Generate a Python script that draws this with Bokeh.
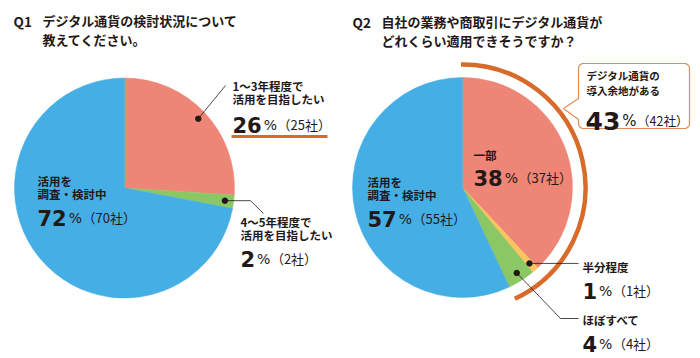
import numpy as np
from bokeh.plotting import figure
from bokeh.models import Range1d
from bokeh.core.properties import value
from bokeh.embed import file_html
from bokeh.resources import INLINE

# ---------------- data ----------------
q1_title = ["デジタル通貨の検討状況について", "教えてください。"]
q1_labels = [["1～3年程度で", "活用を目指したい"], ["4～5年程度で", "活用を目指したい"], ["活用を", "調査・検討中"]]
q1_percent = [26, 2, 72]
q1_companies = [25, 2, 70]

q2_title = ["自社の業務や商取引にデジタル通貨が", "どれくらい適用できそうですか？"]
q2_labels = [["一部"], ["半分程度"], ["ほぼすべて"], ["活用を", "調査・検討中"]]
q2_percent = [38, 1, 4, 57]
q2_companies = [37, 1, 4, 55]
q2_adopt_label = ["デジタル通貨の", "導入余地がある"]
q2_adopt_percent = 43
q2_adopt_companies = 42

# ---------------- style ----------------
SALMON = "#EE8677"
GREEN = "#8CC766"
BLUE = "#45AEE4"
YELLOW = "#FBC45E"
ORANGE = "#D86B2A"
TEXT = "#231815"
JP = "Noto Sans CJK JP"
NUM = "DejaVu Sans"

q1_colors = [SALMON, GREEN, BLUE]
q2_colors = [SALMON, YELLOW, GREEN, BLUE]

W, H = 700, 358
p = figure(width=W, height=H, x_range=Range1d(0, W), y_range=Range1d(-H, 0),
           output_backend="svg", toolbar_location=None, min_border=0,
           x_axis_type=None, y_axis_type=None)
p.grid.visible = False
p.outline_line_color = None
p.background_fill_color = "white"
p.border_fill_color = "white"


def pie(cx, cy, r, vals, colors):
    fr = np.array(vals, dtype=float) / sum(vals)
    cum = np.concatenate([[0.0], np.cumsum(fr)])
    start = np.pi / 2 - 2 * np.pi * cum[:-1]
    end = np.pi / 2 - 2 * np.pi * cum[1:]
    p.wedge(x=cx, y=-cy, radius=r, start_angle=list(start), end_angle=list(end),
            direction="clock", fill_color=colors, line_color=colors, line_width=0.5)
    return (start + end) / 2


def dot_at(cx, cy, r, ang):
    x = cx + r * np.cos(ang)
    y = cy - r * np.sin(ang)
    p.scatter(x=[x], y=[-y], size=5.5, color=TEXT)
    return x, y


def leader(pts):
    p.line(x=[a for a, b in pts], y=[-b for a, b in pts], line_color=TEXT, line_width=0.8)


def txt(x, y, s, size, font=JP, bold=False, baseline="middle", color=TEXT):
    p.text(x=[x], y=[-y], text=[s], text_font=value(font), text_font_size=f"{size}px",
           text_font_style="bold" if bold else "normal", text_baseline=baseline,
           text_align="left", text_color=color)


def num_line(x, base_y, pct, cnt, big=21, digit_w=14.6, pct_size=14, cnt_size=13):
    s = str(pct)
    txt(x, base_y, s, big, font=NUM, bold=True, baseline="alphabetic")
    xp = x + len(s) * digit_w + 2
    txt(xp, base_y, "%", pct_size, font=NUM, baseline="alphabetic")
    txt(xp + pct_size * 0.95 + 0.5, base_y, f"（{cnt}社）", cnt_size, baseline="alphabetic")


def lines(x, y0, rows, size=11.5, dy=13.5):
    for i, s in enumerate(rows):
        txt(x, y0 + i * dy, s, size, bold=True)


# ---------------- titles ----------------
txt(13, 20, "Q1", 13.5, bold=True)
txt(42, 20, q1_title[0], 13, bold=True)
txt(42, 39, q1_title[1], 13, bold=True)
txt(352, 21, "Q2", 13.5, bold=True)
txt(381, 21, q2_title[0], 13, bold=True)
txt(381, 40, q2_title[1], 13, bold=True)

# ---------------- Q1 pie ----------------
C1X, C1Y, R1 = 124, 187.5, 110
m1 = pie(C1X, C1Y, R1, q1_percent, q1_colors)

# red label
dx, dy = dot_at(C1X, C1Y, R1 * 0.92, m1[0])
leader([(dx, dy), (225, 85)])
lines(232, 85, q1_labels[0])
num_line(232, 124, q1_percent[0], q1_companies[0])
p.line(x=[231, 327], y=[-136, -136], line_color=ORANGE, line_width=3)

# green label
dx, dy = dot_at(C1X, C1Y, R1 * 0.92, m1[1])
leader([(dx, dy), (250, dy), (263, 213)])
lines(240, 221, q1_labels[1])
num_line(240, 258, q1_percent[1], q1_companies[1])

# blue label
lines(37, 180, q1_labels[2])
num_line(37, 217, q1_percent[2], q1_companies[2])

# ---------------- Q2 pie ----------------
C2X, C2Y, R2 = 462, 187, 110
m2 = pie(C2X, C2Y, R2, q2_percent, q2_colors)

# orange arc for adoption share
p.arc(x=C2X, y=-C2Y, radius=123, start_angle=np.pi / 2 + 0.012,
      end_angle=np.pi / 2 - 2 * np.pi * q2_adopt_percent / 100, direction="clock",
      line_color=ORANGE, line_width=4.5)

# callout box
x0, y0, x1, y1, r = 578, 63, 689, 128, 5
pts = []
for (ccx, ccy, t0, t1) in [(x0 + r, y0 + r, 180, 270), (x1 - r, y0 + r, 270, 360),
                           (x1 - r, y1 - r, 0, 90), (x0 + r, y1 - r, 90, 180)]:
    for t in np.radians(np.linspace(t0, t1, 7)):
        pts.append((ccx + r * np.cos(t), ccy + r * np.sin(t)))
pts += [(x0, 119), (563, 108), (x0, 98)]
p.patch(x=[a for a, b in pts], y=[-b for a, b in pts], fill_color="white",
        line_color="#E08D55", line_width=1.2)
lines(586, 75, q2_adopt_label, size=10.5, dy=14.5)
num_line(585, 120, q2_adopt_percent, q2_adopt_companies, big=25, digit_w=17.4, pct_size=15, cnt_size=12.5)

# red label (inside)
lines(473, 154, q2_labels[0])
num_line(473, 177, q2_percent[0], q2_companies[0])

# yellow label
dx, dy = dot_at(C2X, C2Y, R2 * 0.92, m2[1])
leader([(dx, dy), (578, dy)])
lines(582, 266, q2_labels[1])
num_line(582, 290, q2_percent[1], q2_companies[1])

# green label
dx, dy = dot_at(C2X, C2Y, R2 * 0.92, m2[2])
leader([(dx, dy), (560, 318), (578, 318)])
lines(582, 319, q2_labels[2])
num_line(582, 343, q2_percent[2], q2_companies[2])

# blue label
lines(367, 181, q2_labels[3])
num_line(367, 218, q2_percent[3], q2_companies[3])

open("out.html", "w").write(file_html(p, INLINE))
